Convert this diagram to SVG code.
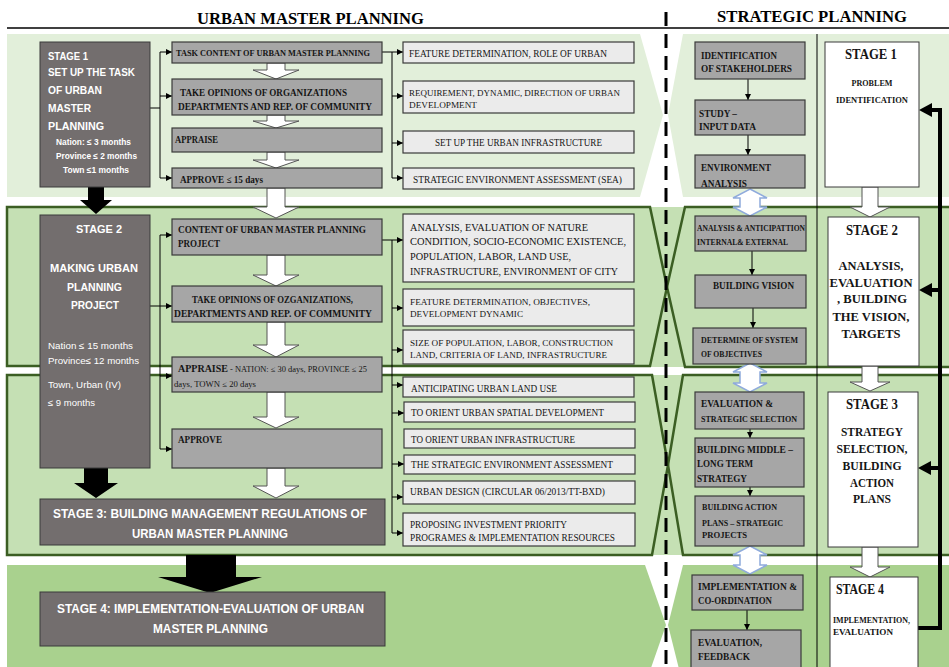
<svg xmlns="http://www.w3.org/2000/svg" width="949" height="667" viewBox="0 0 949 667">
<style>
.hd{font-family:"Liberation Serif",serif;font-weight:bold;font-size:17.5px;fill:#000}
.sw{font-family:"Liberation Sans",Arial,sans-serif;font-weight:bold;fill:#fff}
.sn{font-family:"Liberation Sans",Arial,sans-serif;fill:#fff;font-size:9px}
.tb{font-family:"Liberation Serif",serif;font-weight:bold;fill:#151515}
.tr{font-family:"Liberation Serif",serif;fill:#151515}
.stg{fill:#736e6e;stroke:#3a3a3a;stroke-width:1}
.gb{fill:#a6a6a6;stroke:#3a3a3a;stroke-width:1.2}
.lb{fill:#ebebeb;stroke:#3a3a3a;stroke-width:1.2}
.wb{fill:#fff;stroke:#3a3a3a;stroke-width:1}
.wa{fill:#fff;stroke:#555;stroke-width:1}
.ba{fill:#000}
.da{fill:#fff;stroke:#8faadc;stroke-width:1.5}
.bo{fill:none;stroke:#3b5e23;stroke-width:2.5}
.cn{fill:none;stroke:#000;stroke-width:1}
</style>
<defs>
<marker id="ah" markerWidth="6" markerHeight="6" refX="6" refY="3" orient="auto" markerUnits="userSpaceOnUse"><path d="M0,0 L6,3 L0,6 z" fill="#000"/></marker>
</defs>
<rect width="949" height="667" fill="#fff"/>
<!-- bands -->
<g id="bands">
<polygon points="7,34 640,34 663,115 640,197 7,197" fill="#e2efda"/>
<polygon points="683,34 949,34 949,197 683,197 668,115" fill="#e2efda"/>
<rect x="7" y="207" width="942" height="160" fill="#c5e0b4"/>
<path class="bo" d="M7,207 H650 L667,287 L650,366 H7 Z"/>
<path class="bo" d="M952,207 H685 L667,287 L685,367 H952"/>
<rect x="7" y="375" width="942" height="180" fill="#c5e0b4"/>
<path class="bo" d="M7,375 H652 L668,465 L652,555 H7 Z"/>
<path class="bo" d="M952,375 H683 L668,465 L683,555 H952"/>
<polygon points="7,565 645,565 666,625 645,685 7,685" fill="#a9d18e"/>
<polygon points="683,565 949,565 949,685 683,685 668,625" fill="#a9d18e"/>
</g>
<!-- headers -->
<g id="headers">
<text class="hd" x="197" y="24" textLength="227" lengthAdjust="spacingAndGlyphs">URBAN MASTER PLANNING</text>
<text class="hd" x="717" y="22" textLength="190" lengthAdjust="spacingAndGlyphs">STRATEGIC PLANNING</text>
<line x1="7" y1="28" x2="949" y2="28" stroke="#000" stroke-width="1.5"/>
<line x1="666" y1="12" x2="666" y2="667" stroke="#000" stroke-width="3" stroke-dasharray="14,8"/>
<line x1="817" y1="34" x2="817" y2="667" stroke="#000" stroke-width="1"/>
</g>
<!-- connectors -->
<g id="connectors">
<path class="cn" d="M150,108 H160 M160,52 V178"/>
<line class="cn" x1="160" y1="52" x2="172" y2="52" marker-end="url(#ah)"/>
<line class="cn" x1="160" y1="96" x2="172" y2="96" marker-end="url(#ah)"/>
<line class="cn" x1="160" y1="178" x2="172" y2="178" marker-end="url(#ah)"/>
<path class="cn" d="M382,52 H392 V178"/>
<line class="cn" x1="392" y1="52" x2="403" y2="52" marker-end="url(#ah)"/>
<line class="cn" x1="392" y1="96" x2="403" y2="96" marker-end="url(#ah)"/>
<line class="cn" x1="392" y1="143" x2="403" y2="143" marker-end="url(#ah)"/>
<line class="cn" x1="392" y1="178" x2="403" y2="178" marker-end="url(#ah)"/>
<path class="cn" d="M160,235 V449"/>
<line class="cn" x1="150" y1="306" x2="172" y2="306" marker-end="url(#ah)"/>
<line class="cn" x1="160" y1="235" x2="172" y2="235" marker-end="url(#ah)"/>
<line class="cn" x1="160" y1="376" x2="172" y2="376" marker-end="url(#ah)"/>
<line class="cn" x1="160" y1="449" x2="172" y2="449" marker-end="url(#ah)"/>
<path class="cn" d="M382,240 H392 V533"/>
<line class="cn" x1="392" y1="240" x2="403" y2="240" marker-end="url(#ah)"/>
<line class="cn" x1="392" y1="308" x2="403" y2="308" marker-end="url(#ah)"/>
<line class="cn" x1="392" y1="350" x2="403" y2="350" marker-end="url(#ah)"/>
<line class="cn" x1="392" y1="385" x2="403" y2="385" marker-end="url(#ah)"/>
<line class="cn" x1="392" y1="413" x2="404" y2="413" marker-end="url(#ah)"/>
<line class="cn" x1="392" y1="464" x2="404" y2="464" marker-end="url(#ah)"/>
<line class="cn" x1="392" y1="497" x2="403" y2="497" marker-end="url(#ah)"/>
<line class="cn" x1="392" y1="533" x2="403" y2="533" marker-end="url(#ah)"/>
<line class="cn" x1="748" y1="79" x2="748" y2="100" marker-end="url(#ah)"/>
<line class="cn" x1="748" y1="135" x2="748" y2="155" marker-end="url(#ah)"/>
<line class="cn" x1="752" y1="251" x2="752" y2="275" marker-end="url(#ah)"/>
<line class="cn" x1="753" y1="308" x2="753" y2="328" marker-end="url(#ah)"/>
<line class="cn" x1="750" y1="429" x2="750" y2="438" marker-end="url(#ah)"/>
<line class="cn" x1="750" y1="487" x2="750" y2="496" marker-end="url(#ah)"/>
<line class="cn" x1="747" y1="610" x2="747" y2="630" marker-end="url(#ah)"/>
<!-- hollow flow arrows -->
<path class="wa" d="M267,63H285V70H299L276,79L253,70H267Z"/>
<path class="wa" d="M267,115H285V121H299L276,128L253,121H267Z"/>
<path class="wa" d="M267,152H285V160H299L276,168L253,160H267Z"/>
<path class="wa" d="M267,188H285V207H299L276,218L253,207H267Z"/>
<path class="wa" d="M267,255H285V275H299L276,286L253,275H267Z"/>
<path class="wa" d="M267,322H285V345H299L276,357L253,345H267Z"/>
<path class="wa" d="M267,392H285V417H299L276,428L253,417H267Z"/>
<path class="wa" d="M267,468H285V486H299L276,498L253,486H267Z"/>
<path class="wa" d="M862,187H878V207H890L870,217L850,207H862Z"/>
<path class="wa" d="M862,366H878V382H890L870,391L850,382H862Z"/>
<path class="wa" d="M862,547H878V567H890L870,577L850,567H862Z"/>
<!-- black arrows -->
<path class="ba" d="M88,186H104V200H112L96,214L80,200H88Z"/>
<path class="ba" d="M84,468H108V483H118L96,498L74,483H84Z"/>
<path class="ba" d="M186,555H236V577H262L210,593L158,577H186Z"/>
<!-- double arrows -->
<path class="da" d="M750,189 L767,198 L760,198 L760,207 L767,207 L750,216 L733,207 L740,207 L740,198 L733,198 Z"/>
<path class="da" d="M750,363 L767,372 L760,372 L760,383 L767,383 L750,392 L733,383 L740,383 L740,372 L733,372 Z"/>
<path class="da" d="M750,546 L767,555 L760,555 L760,565 L767,565 L750,574 L733,565 L740,565 L740,555 L733,555 Z"/>
<!-- feedback -->
<polyline points="918,628 940,628 940,110 930,110" fill="none" stroke="#000" stroke-width="4"/>
<line x1="940" y1="290" x2="930" y2="290" stroke="#000" stroke-width="4"/>
<line x1="940" y1="468" x2="930" y2="468" stroke="#000" stroke-width="4"/>
<polygon points="919,110 932,103 932,117" fill="#000"/>
<polygon points="919,290 932,283 932,297" fill="#000"/>
<polygon points="918,468 931,461 931,475" fill="#000"/>
</g>
<!-- stage boxes left -->
<g id="stage1">
<rect class="stg" x="40" y="42" width="110" height="145"/>
<text class="sw" font-size="11" x="48" y="60" textLength="40" lengthAdjust="spacingAndGlyphs">STAGE 1</text>
<text class="sw" font-size="11" x="48" y="76" textLength="87" lengthAdjust="spacingAndGlyphs">SET UP THE TASK</text>
<text class="sw" font-size="11" x="48" y="94" textLength="54" lengthAdjust="spacingAndGlyphs">OF URBAN</text>
<text class="sw" font-size="11" x="48" y="112" textLength="43" lengthAdjust="spacingAndGlyphs">MASTER</text>
<text class="sw" font-size="11" x="48" y="130" textLength="56" lengthAdjust="spacingAndGlyphs">PLANNING</text>
<text class="sw" font-size="8.5" x="56" y="145" textLength="75" lengthAdjust="spacingAndGlyphs">Nation: ≤ 3 months</text>
<text class="sw" font-size="8.5" x="56" y="159" textLength="81" lengthAdjust="spacingAndGlyphs">Province ≤ 2 months</text>
<text class="sw" font-size="8.5" x="63" y="173" textLength="66" lengthAdjust="spacingAndGlyphs">Town ≤1 months</text>
</g>
<g id="stage2">
<rect class="stg" x="40" y="215" width="110" height="253"/>
<text class="sw" font-size="11" x="76" y="233" textLength="46" lengthAdjust="spacingAndGlyphs">STAGE 2</text>
<text class="sw" font-size="11" x="50" y="272" textLength="88" lengthAdjust="spacingAndGlyphs">MAKING URBAN</text>
<text class="sw" font-size="11" x="67" y="291" textLength="55" lengthAdjust="spacingAndGlyphs">PLANNING</text>
<text class="sw" font-size="11" x="71" y="309" textLength="48" lengthAdjust="spacingAndGlyphs">PROJECT</text>
<text class="sn" x="48" y="349" textLength="85" lengthAdjust="spacingAndGlyphs">Nation ≤ 15 months</text>
<text class="sn" x="48" y="364" textLength="91" lengthAdjust="spacingAndGlyphs">Province≤ 12 months</text>
<text class="sn" x="48" y="388" textLength="73" lengthAdjust="spacingAndGlyphs">Town, Urban (IV)</text>
<text class="sn" x="48" y="406" textLength="47" lengthAdjust="spacingAndGlyphs">≤ 9 months</text>
</g>
<g id="stage3">
<rect class="stg" x="40" y="499" width="345" height="46"/>
<text class="sw" font-size="12.5" x="53" y="518" textLength="314" lengthAdjust="spacingAndGlyphs">STAGE 3: BUILDING MANAGEMENT REGULATIONS OF</text>
<text class="sw" font-size="12.5" x="132" y="538" textLength="156" lengthAdjust="spacingAndGlyphs">URBAN MASTER PLANNING</text>
</g>
<g id="stage4">
<rect class="stg" x="40" y="592" width="345" height="54"/>
<text class="sw" font-size="12.5" x="57" y="613" textLength="307" lengthAdjust="spacingAndGlyphs">STAGE 4: IMPLEMENTATION-EVALUATION OF URBAN</text>
<text class="sw" font-size="12.5" x="153" y="633" textLength="115" lengthAdjust="spacingAndGlyphs">MASTER PLANNING</text>
</g>
<!-- middle column -->
<g id="m1"><rect class="gb" x="172" y="42" width="210" height="21"/>
<text class="tb" font-size="8.5" x="176" y="56" textLength="194" lengthAdjust="spacingAndGlyphs">TASK CONTENT OF URBAN MASTER PLANNING</text></g>
<g id="m2"><rect class="gb" x="172" y="79" width="210" height="36"/>
<text class="tb" font-size="9.5" x="180" y="96" textLength="167" lengthAdjust="spacingAndGlyphs">TAKE OPINIONS OF ORGANIZATIONS</text>
<text class="tb" font-size="9.5" x="178" y="110" textLength="194" lengthAdjust="spacingAndGlyphs">DEPARTMENTS AND REP. OF COMMUNITY</text></g>
<g id="m3"><rect class="gb" x="172" y="128" width="210" height="24"/>
<text class="tb" font-size="9.5" x="175" y="143" textLength="43" lengthAdjust="spacingAndGlyphs">APPRAISE</text></g>
<g id="m4"><rect class="gb" x="172" y="168" width="210" height="20"/>
<text class="tb" font-size="9.5" x="180" y="183" textLength="83" lengthAdjust="spacingAndGlyphs">APPROVE ≤ 15 days</text></g>
<g id="m5"><rect class="gb" x="172" y="219" width="210" height="36"/>
<text class="tb" font-size="9.5" x="178" y="233" textLength="188" lengthAdjust="spacingAndGlyphs">CONTENT OF URBAN MASTER PLANNING</text>
<text class="tb" font-size="9.5" x="178" y="247" textLength="42" lengthAdjust="spacingAndGlyphs">PROJECT</text></g>
<g id="m6"><rect class="gb" x="172" y="286" width="210" height="36"/>
<text class="tb" font-size="9.5" x="192" y="303" textLength="161" lengthAdjust="spacingAndGlyphs">TAKE OPINIONS OF OZGANIZATIONS,</text>
<text class="tb" font-size="9.5" x="174" y="317" textLength="198" lengthAdjust="spacingAndGlyphs">DEPARTMENTS AND REP. OF COMMUNITY</text></g>
<g id="m7"><rect class="gb" x="172" y="357" width="210" height="35"/>
<text font-size="9.5" x="178" y="372" textLength="189" lengthAdjust="spacingAndGlyphs"><tspan class="tb">APPRAISE</tspan><tspan class="tr" font-size="8"> - NATION: ≤ 30 days, PROVINCE ≤ 25</tspan></text>
<text class="tr" font-size="8" x="174" y="387" textLength="82" lengthAdjust="spacingAndGlyphs">days, TOWN ≤ 20 days</text></g>
<g id="m8"><rect class="gb" x="172" y="429" width="210" height="39"/>
<text class="tb" font-size="9.5" x="178" y="443" textLength="44" lengthAdjust="spacingAndGlyphs">APPROVE</text></g>
<!-- right description boxes -->
<g id="r1"><rect class="lb" x="403" y="42" width="231" height="21"/>
<text class="tr" font-size="9.5" x="409" y="57" textLength="198" lengthAdjust="spacingAndGlyphs">FEATURE DETERMINATION, ROLE OF URBAN</text></g>
<g id="r2"><rect class="lb" x="403" y="81" width="231" height="32"/>
<text class="tr" font-size="9" x="409" y="96" textLength="211" lengthAdjust="spacingAndGlyphs">REQUIREMENT, DYNAMIC, DIRECTION OF URBAN</text>
<text class="tr" font-size="9" x="409" y="108" textLength="68" lengthAdjust="spacingAndGlyphs">DEVELOPMENT</text></g>
<g id="r3"><rect class="lb" x="403" y="131" width="231" height="22"/>
<text class="tr" font-size="9.5" x="435" y="146" textLength="167" lengthAdjust="spacingAndGlyphs">SET UP THE URBAN INFRASTRUCTURE</text></g>
<g id="r4"><rect class="lb" x="403" y="168" width="231" height="21"/>
<text class="tr" font-size="9.5" x="413" y="183" textLength="209" lengthAdjust="spacingAndGlyphs">STRATEGIC ENVIRONMENT ASSESSMENT (SEA)</text></g>
<g id="r5"><rect class="lb" x="403" y="214" width="231" height="68"/>
<text class="tr" font-size="10.5" x="410" y="231" textLength="178" lengthAdjust="spacingAndGlyphs">ANALYSIS, EVALUATION OF NATURE</text>
<text class="tr" font-size="10.5" x="410" y="245" textLength="216" lengthAdjust="spacingAndGlyphs">CONDITION, SOCIO-ECONOMIC EXISTENCE,</text>
<text class="tr" font-size="10.5" x="410" y="260" textLength="161" lengthAdjust="spacingAndGlyphs">POPULATION, LABOR, LAND USE,</text>
<text class="tr" font-size="10.5" x="410" y="275" textLength="208" lengthAdjust="spacingAndGlyphs">INFRASTRUCTURE,  ENVIRONMENT OF CITY</text></g>
<g id="r6"><rect class="lb" x="403" y="289" width="231" height="37"/>
<text class="tr" font-size="9" x="410" y="305" textLength="180" lengthAdjust="spacingAndGlyphs">FEATURE DETERMINATION, OBJECTIVES,</text>
<text class="tr" font-size="9" x="410" y="317" textLength="113" lengthAdjust="spacingAndGlyphs">DEVELOPMENT DYNAMIC</text></g>
<g id="r7"><rect class="lb" x="403" y="330" width="231" height="34"/>
<text class="tr" font-size="9" x="410" y="346" textLength="203" lengthAdjust="spacingAndGlyphs">SIZE OF POPULATION, LABOR, CONSTRUCTION</text>
<text class="tr" font-size="9" x="410" y="358" textLength="197" lengthAdjust="spacingAndGlyphs">LAND, CRITERIA OF LAND, INFRASTRUCTURE</text></g>
<g id="r8"><rect class="lb" x="403" y="377" width="231" height="20"/>
<text class="tr" font-size="9.5" x="411" y="392" textLength="146" lengthAdjust="spacingAndGlyphs">ANTICIPATING URBAN LAND USE</text></g>
<g id="r9"><rect class="lb" x="404" y="402" width="231" height="20"/>
<text class="tr" font-size="9.5" x="411" y="416" textLength="193" lengthAdjust="spacingAndGlyphs">TO ORIENT URBAN SPATIAL DEVELOPMENT</text></g>
<g id="r10"><rect class="lb" x="404" y="429" width="231" height="19"/>
<text class="tr" font-size="9.5" x="411" y="443" textLength="164" lengthAdjust="spacingAndGlyphs">TO ORIENT URBAN INFRASTRUCTURE</text></g>
<g id="r11"><rect class="lb" x="404" y="455" width="231" height="19"/>
<text class="tr" font-size="9.5" x="411" y="468" textLength="202" lengthAdjust="spacingAndGlyphs">THE STRATEGIC ENVIRONMENT ASSESSMENT</text></g>
<g id="r12"><rect class="lb" x="403" y="481" width="232" height="23"/>
<text class="tr" font-size="9.5" x="410" y="495" textLength="195" lengthAdjust="spacingAndGlyphs">URBAN DESIGN (CIRCULAR 06/2013/TT-BXD)</text></g>
<g id="r13"><rect class="lb" x="403" y="513" width="232" height="33"/>
<text class="tr" font-size="9.5" x="410" y="528" textLength="157" lengthAdjust="spacingAndGlyphs">PROPOSING INVESTMENT PRIORITY</text>
<text class="tr" font-size="9.5" x="410" y="541" textLength="205" lengthAdjust="spacingAndGlyphs">PROGRAMES  &amp; IMPLEMENTATION RESOURCES</text></g>
<!-- strategic steps -->
<g id="s1"><rect class="gb" x="695" y="42" width="110" height="37"/>
<text class="tb" font-size="9.5" x="701" y="59" textLength="76" lengthAdjust="spacingAndGlyphs">IDENTIFICATION</text>
<text class="tb" font-size="9.5" x="701" y="72" textLength="91" lengthAdjust="spacingAndGlyphs">OF STAKEHOLDERS</text></g>
<g id="s2"><rect class="gb" x="695" y="100" width="110" height="35"/>
<text class="tb" font-size="9.5" x="699" y="117" textLength="38" lengthAdjust="spacingAndGlyphs">STUDY –</text>
<text class="tb" font-size="9.5" x="699" y="130" textLength="57" lengthAdjust="spacingAndGlyphs">INPUT DATA</text></g>
<g id="s3"><rect class="gb" x="695" y="155" width="110" height="33"/>
<text class="tb" font-size="9.5" x="701" y="171" textLength="70" lengthAdjust="spacingAndGlyphs">ENVIRONMENT</text>
<text class="tb" font-size="9.5" x="701" y="187" textLength="46" lengthAdjust="spacingAndGlyphs">ANALYSIS</text></g>
<g id="s4"><rect class="gb" x="695" y="216" width="111" height="35"/>
<text class="tb" font-size="8.5" x="697" y="231" textLength="108" lengthAdjust="spacingAndGlyphs">ANALYSIS &amp; ANTICIPATTION</text>
<text class="tb" font-size="8.5" x="697" y="245" textLength="91" lengthAdjust="spacingAndGlyphs">INTERNAL&amp; EXTERNAL</text></g>
<g id="s5"><rect class="gb" x="695" y="275" width="111" height="33"/>
<text class="tb" font-size="9.5" x="713" y="289" textLength="81" lengthAdjust="spacingAndGlyphs">BUILDING  VISION</text></g>
<g id="s6"><rect class="gb" x="693" y="328" width="113" height="36"/>
<text class="tb" font-size="8.5" x="701" y="343" textLength="97" lengthAdjust="spacingAndGlyphs">DETERMINE  OF SYSTEM</text>
<text class="tb" font-size="8.5" x="701" y="357" textLength="61" lengthAdjust="spacingAndGlyphs">OF OBJECTIVES</text></g>
<g id="s7"><rect class="gb" x="695" y="392" width="109" height="37"/>
<text class="tb" font-size="9.5" x="701" y="407" textLength="72" lengthAdjust="spacingAndGlyphs">EVALUATION &amp;</text>
<text class="tb" font-size="8.5" x="701" y="422" textLength="96" lengthAdjust="spacingAndGlyphs">STRATEGIC  SELECTION</text></g>
<g id="s8"><rect class="gb" x="695" y="438" width="109" height="49"/>
<text class="tb" font-size="9.5" x="697" y="453" textLength="96" lengthAdjust="spacingAndGlyphs">BUILDING  MIDDLE –</text>
<text class="tb" font-size="9.5" x="697" y="467" textLength="56" lengthAdjust="spacingAndGlyphs">LONG TERM</text>
<text class="tb" font-size="9.5" x="697" y="482" textLength="50" lengthAdjust="spacingAndGlyphs">STRATEGY</text></g>
<g id="s9"><rect class="gb" x="695" y="496" width="109" height="50"/>
<text class="tb" font-size="8.5" x="702" y="510" textLength="75" lengthAdjust="spacingAndGlyphs">BUILDING  ACTION</text>
<text class="tb" font-size="8.5" x="702" y="526" textLength="81" lengthAdjust="spacingAndGlyphs">PLANS – STRATEGIC</text>
<text class="tb" font-size="8.5" x="702" y="538" textLength="45" lengthAdjust="spacingAndGlyphs">PROJECTS</text></g>
<g id="s10"><rect class="gb" x="692" y="575" width="111" height="35"/>
<text class="tb" font-size="9.5" x="698" y="590" textLength="99" lengthAdjust="spacingAndGlyphs">IMPLEMENTATION  &amp;</text>
<text class="tb" font-size="9.5" x="698" y="604" textLength="74" lengthAdjust="spacingAndGlyphs">CO-ORDINATION</text></g>
<g id="s11"><rect class="gb" x="691" y="630" width="110" height="42"/>
<text class="tb" font-size="9.5" x="698" y="646" textLength="64" lengthAdjust="spacingAndGlyphs">EVALUATION,</text>
<text class="tb" font-size="9.5" x="698" y="660" textLength="52" lengthAdjust="spacingAndGlyphs">FEEDBACK</text></g>
<!-- right stage boxes -->
<g id="t1"><rect class="wb" x="825" y="42" width="94" height="145"/>
<text class="tb" font-size="14" x="871" y="59" text-anchor="middle" textLength="52" lengthAdjust="spacingAndGlyphs">STAGE 1</text>
<text class="tb" font-size="9" x="872" y="86" text-anchor="middle" textLength="41" lengthAdjust="spacingAndGlyphs">PROBLEM</text>
<text class="tb" font-size="9" x="872" y="103" text-anchor="middle" textLength="72" lengthAdjust="spacingAndGlyphs">IDENTIFICATION</text></g>
<g id="t2"><rect class="wb" x="828" y="217" width="91" height="149"/>
<text class="tb" font-size="14" x="872" y="235" text-anchor="middle" textLength="52" lengthAdjust="spacingAndGlyphs">STAGE 2</text>
<text class="tb" font-size="13.5" x="871" y="270" text-anchor="middle" textLength="65" lengthAdjust="spacingAndGlyphs">ANALYSIS,</text>
<text class="tb" font-size="13.5" x="871" y="287" text-anchor="middle" textLength="83" lengthAdjust="spacingAndGlyphs">EVALUATION</text>
<text class="tb" font-size="13.5" x="872" y="303" text-anchor="middle" textLength="70" lengthAdjust="spacingAndGlyphs">, BUILDING</text>
<text class="tb" font-size="13.5" x="871" y="321" text-anchor="middle" textLength="77" lengthAdjust="spacingAndGlyphs">THE VISION,</text>
<text class="tb" font-size="13.5" x="871" y="338" text-anchor="middle" textLength="59" lengthAdjust="spacingAndGlyphs">TARGETS</text></g>
<g id="t3"><rect class="wb" x="828" y="392" width="90" height="155"/>
<text class="tb" font-size="14" x="872" y="409" text-anchor="middle" textLength="52" lengthAdjust="spacingAndGlyphs">STAGE 3</text>
<text class="tb" font-size="13.5" x="872" y="436" text-anchor="middle" textLength="62" lengthAdjust="spacingAndGlyphs">STRATEGY</text>
<text class="tb" font-size="13.5" x="872" y="453" text-anchor="middle" textLength="71" lengthAdjust="spacingAndGlyphs">SELECTION,</text>
<text class="tb" font-size="13.5" x="872" y="470" text-anchor="middle" textLength="59" lengthAdjust="spacingAndGlyphs">BUILDING</text>
<text class="tb" font-size="13.5" x="872" y="487" text-anchor="middle" textLength="44" lengthAdjust="spacingAndGlyphs">ACTION</text>
<text class="tb" font-size="13.5" x="872" y="503" text-anchor="middle" textLength="38" lengthAdjust="spacingAndGlyphs">PLANS</text></g>
<g id="t4"><rect class="wb" x="830" y="577" width="88" height="95"/>
<text class="tb" font-size="14" x="836" y="594" textLength="48" lengthAdjust="spacingAndGlyphs">STAGE 4</text>
<text class="tb" font-size="8.5" x="833" y="623" textLength="77" lengthAdjust="spacingAndGlyphs">IMPLEMENTATION,</text>
<text class="tb" font-size="9" x="833" y="635" textLength="60" lengthAdjust="spacingAndGlyphs">EVALUATION</text></g>
</svg>
